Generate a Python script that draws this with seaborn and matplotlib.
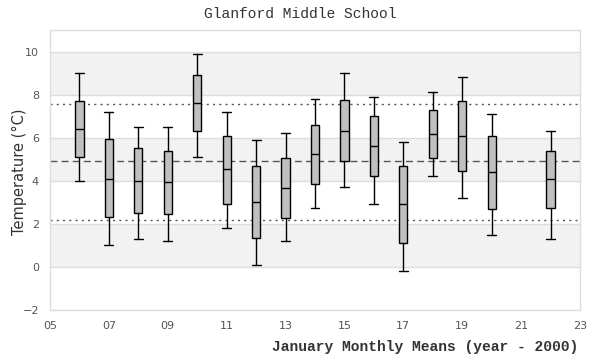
import numpy as np
import matplotlib
matplotlib.use("Agg")
import matplotlib.pyplot as plt
import seaborn as sns

years = [6, 7, 8, 9, 10, 11, 12, 13, 14, 15, 16, 17, 18, 19, 20, 22]
whisker_low = [4.0, 1.0, 1.3, 1.2, 5.1, 1.8, 0.1, 1.2, 2.75, 3.7, 2.9, -0.2, 4.2, 3.2, 1.5, 1.3]
q1 = [5.1, 2.3, 2.5, 2.45, 6.3, 2.9, 1.35, 2.25, 3.85, 4.9, 4.2, 1.1, 5.05, 4.45, 2.7, 2.75]
median = [6.4, 4.1, 4.0, 3.95, 7.6, 4.55, 3.0, 3.65, 5.25, 6.3, 5.6, 2.9, 6.15, 6.1, 4.4, 4.1]
q3 = [7.7, 5.95, 5.5, 5.4, 8.9, 6.1, 4.7, 5.05, 6.6, 7.75, 7.0, 4.7, 7.3, 7.7, 6.1, 5.4]
whisker_high = [9.0, 7.2, 6.5, 6.5, 9.9, 7.2, 5.9, 6.2, 7.8, 9.0, 7.9, 5.8, 8.1, 8.8, 7.1, 6.3]

overall_mean = 4.9
band_low = 2.2
band_high = 7.55

x_ticks = [5, 7, 9, 11, 13, 15, 17, 19, 21, 23]
y_ticks = [-2, 0, 2, 4, 6, 8, 10]

sns.set_style("white")

fig = plt.figure(figsize=(6, 3.6), dpi=100)
ax = fig.add_axes([50 / 600, 1 - 310 / 360, 530 / 600, 280 / 360])

# alternating shaded bands
for lo in [0, 4, 8]:
    ax.axhspan(lo, lo + 2, color="#f2f2f2", zorder=0, lw=0)
for y in y_ticks:
    ax.axhline(y, color="#dddddd", lw=1, zorder=0.5)

ax.axhline(overall_mean, color="#555555", lw=1, ls=(0, (5, 3)), zorder=1)
ax.axhline(band_low, color="#555555", lw=1, ls=(0, (1.5, 3)), zorder=1)
ax.axhline(band_high, color="#555555", lw=1, ls=(0, (1.5, 3)), zorder=1)

stats = []
for i in range(len(years)):
    stats.append({
        "med": median[i], "q1": q1[i], "q3": q3[i],
        "whislo": whisker_low[i], "whishi": whisker_high[i], "fliers": [],
    })

ax.bxp(stats, positions=years, widths=0.28, patch_artist=True, manage_ticks=False,
       boxprops=dict(facecolor="#c0c0c0", edgecolor="black", lw=1.0),
       medianprops=dict(color="black", lw=1.0),
       whiskerprops=dict(color="black", lw=1.0),
       capprops=dict(color="black", lw=1.0),
       capwidths=0.3, zorder=3)

ax.set_xlim(5, 23)
ax.set_ylim(-2, 11)
ax.set_xticks(x_ticks)
ax.set_xticklabels([f"{t:02d}" for t in x_ticks])
ax.set_yticks(y_ticks)
ax.tick_params(axis="both", length=0, labelsize=8, labelcolor="#555555", pad=8,
               labelfontfamily="DejaVu Sans")

for s in ax.spines.values():
    s.set_color("#dddddd")
    s.set_linewidth(1)

fig.text(0.5, 1 - 14 / 360, "Glanford Middle School", ha="center", va="center",
         family="Liberation Mono", fontsize=10.5, color="#333333")
fig.text(578 / 600, 1 - 347 / 360, "January Monthly Means (year - 2000)", ha="right",
         va="center", family="Liberation Mono", fontsize=10.5, color="#333333",
         weight="bold")
fig.text(19 / 600, 1 - 172 / 360, "Temperature (°C)", rotation=90, ha="center",
         va="center", family="DejaVu Sans", fontsize=10.5, color="#333333")

fig.savefig("out.png", dpi=100)
